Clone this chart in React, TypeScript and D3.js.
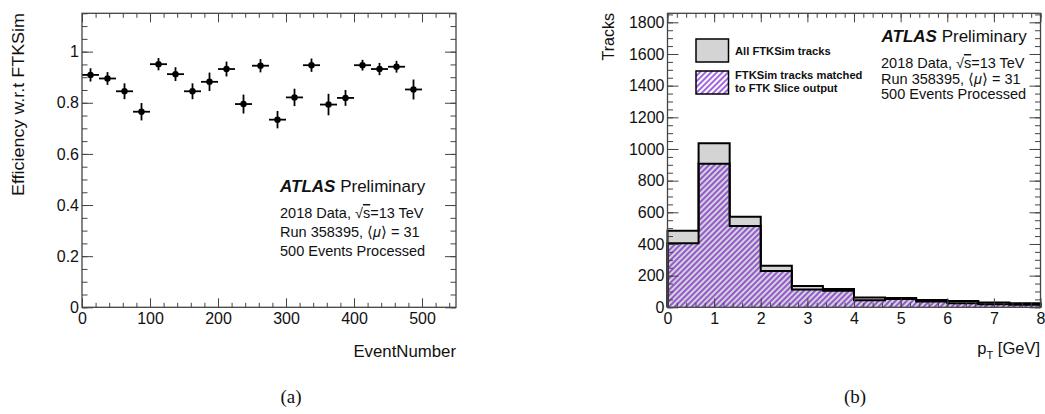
import React, { useEffect, useRef } from 'react';
import * as d3 from 'd3';

// (a) efficiency per block of 25 events
const eventCenters = [12.5, 37.5, 62.5, 87.5, 112.5, 137.5, 162.5, 187.5, 212.5, 237.5,
  262.5, 287.5, 312.5, 337.5, 362.5, 387.5, 412.5, 437.5, 462.5, 487.5];
const efficiency = [0.909, 0.895, 0.845, 0.765, 0.951, 0.912, 0.845, 0.882, 0.932, 0.795,
  0.945, 0.734, 0.821, 0.947, 0.793, 0.819, 0.947, 0.932, 0.941, 0.852];
const efficiencyErr = [0.026, 0.025, 0.031, 0.034, 0.024, 0.027, 0.031, 0.036, 0.029, 0.037,
  0.026, 0.034, 0.034, 0.026, 0.042, 0.031, 0.021, 0.024, 0.023, 0.039];
const eventHalfWidth = 12.5;

// (b) track pT histograms
const ptEdges = [0, 2 / 3, 4 / 3, 2, 8 / 3, 10 / 3, 4, 14 / 3, 16 / 3, 6, 20 / 3, 22 / 3, 8];
const allTracks = [484, 1036, 572, 263, 134, 115, 62, 58, 46, 40, 31, 25];
const matchedTracks = [405, 906, 514, 230, 113, 105, 45, 52, 37, 26, 19, 16];

const effTicks = [0, 0.2, 0.4, 0.6, 0.8, 1];
const eventTicks = [0, 100, 200, 300, 400, 500];
const trackTicks = [0, 200, 400, 600, 800, 1000, 1200, 1400, 1600, 1800];
const ptTicks = [0, 1, 2, 3, 4, 5, 6, 7, 8];

const FONT = '"Liberation Sans", Arial, Helvetica, sans-serif';
const PURPLE = '#7a22d4';
const GRAY = '#d4d4d4';
const AXIS = '#444';

/**
 * ROOT style frame: ticks inside on all four sides, labels bottom/left
 */
function drawFrame(g, x, y, opts) {
  const [bottom, top] = y.range();
  const [left, right] = x.range();
  const tx = 9, ty = 11;

  const style = sel => {
    sel.select('.domain').remove();
    sel.selectAll('line').attr('stroke', AXIS);
    sel.attr('font-family', FONT).attr('font-size', 16);
    sel.selectAll('text').attr('fill', '#111');
  };

  // minor ticks
  g.append('g').attr('transform', `translate(0,${bottom})`)
    .call(d3.axisBottom(x).tickValues(opts.xMinor).tickSize(-tx / 2).tickFormat(() => '')).call(style);
  g.append('g').attr('transform', `translate(0,${top})`)
    .call(d3.axisTop(x).tickValues(opts.xMinor).tickSize(-tx / 2).tickFormat(() => '')).call(style);
  g.append('g').attr('transform', `translate(${left},0)`)
    .call(d3.axisLeft(y).tickValues(opts.yMinor).tickSize(-ty / 2).tickFormat(() => '')).call(style);
  g.append('g').attr('transform', `translate(${right},0)`)
    .call(d3.axisRight(y).tickValues(opts.yMinor).tickSize(-ty / 2).tickFormat(() => '')).call(style);

  // major ticks + labels
  g.append('g').attr('transform', `translate(0,${bottom})`)
    .call(d3.axisBottom(x).tickValues(opts.xMajor).tickSize(-tx).tickPadding(5).tickFormat(d => String(d)))
    .call(style);
  g.append('g').attr('transform', `translate(0,${top})`)
    .call(d3.axisTop(x).tickValues(opts.xMajor).tickSize(-tx).tickFormat(() => '')).call(style);
  g.append('g').attr('transform', `translate(${left},0)`)
    .call(d3.axisLeft(y).tickValues(opts.yMajor).tickSize(-ty).tickPadding(3).tickFormat(d => String(d)))
    .call(style);
  g.append('g').attr('transform', `translate(${right},0)`)
    .call(d3.axisRight(y).tickValues(opts.yMajor).tickSize(-ty).tickFormat(() => '')).call(style);

  g.append('rect')
    .attr('x', left).attr('y', top)
    .attr('width', right - left).attr('height', bottom - top)
    .attr('fill', 'none').attr('stroke', AXIS).attr('stroke-width', 1.3);
}

function drawEfficiency(svg) {
  const x = d3.scaleLinear().domain([0, 550]).range([82, 456]);
  const y = d3.scaleLinear().domain([0, 1.15]).range([307.3, 13.3]);
  const g = svg.append('g');

  const pts = g.append('g').selectAll('g').data(eventCenters).join('g');
  pts.append('line')
    .attr('x1', d => x(d - eventHalfWidth)).attr('x2', d => x(d + eventHalfWidth))
    .attr('y1', (d, i) => y(efficiency[i])).attr('y2', (d, i) => y(efficiency[i]))
    .attr('stroke', '#000').attr('stroke-width', 1.8);
  pts.append('line')
    .attr('x1', d => x(d)).attr('x2', d => x(d))
    .attr('y1', (d, i) => y(efficiency[i] - efficiencyErr[i]))
    .attr('y2', (d, i) => y(efficiency[i] + efficiencyErr[i]))
    .attr('stroke', '#000').attr('stroke-width', 1.8);
  pts.append('circle')
    .attr('cx', d => x(d)).attr('cy', (d, i) => y(efficiency[i]))
    .attr('r', 3.2).attr('fill', '#000');

  drawFrame(g, x, y, {
    xMajor: eventTicks, xMinor: d3.range(0, 551, 20),
    yMajor: effTicks, yMinor: d3.range(0, 1.151, 0.05),
  });
}

function drawTracks(svg) {
  const x = d3.scaleLinear().domain([0, 8]).range([667.5, 1040.5]);
  const y = d3.scaleLinear().domain([0, 1857]).range([307.3, 13.3]);
  const g = svg.append('g');

  const step = values => {
    const p = [[ptEdges[0], 0]];
    values.forEach((v, i) => { p.push([ptEdges[i], v]); p.push([ptEdges[i + 1], v]); });
    p.push([ptEdges[ptEdges.length - 1], 0]);
    return d3.line().x(d => x(d[0])).y(d => y(d[1]))(p);
  };

  g.append('path').attr('d', step(allTracks) + 'Z').attr('fill', GRAY);
  g.append('path').attr('d', step(allTracks)).attr('fill', 'none')
    .attr('stroke', '#000').attr('stroke-width', 2);
  g.append('path').attr('d', step(matchedTracks) + 'Z').attr('fill', 'url(#hatch)');
  g.append('path').attr('d', step(matchedTracks)).attr('fill', 'none')
    .attr('stroke', '#000').attr('stroke-width', 2);

  drawFrame(g, x, y, {
    xMajor: ptTicks, xMinor: d3.range(0, 8.01, 0.2),
    yMajor: trackTicks, yMinor: d3.range(0, 1857, 50),
  });
}

export default function App() {
  const ref = useRef(null);

  useEffect(() => {
    const svg = d3.select(ref.current).select('g.plots');
    svg.selectAll('*').remove();
    drawEfficiency(svg);
    drawTracks(svg);
  }, []);

  const info = (x, y0, dy) => (
    <g fontFamily={FONT} fontSize={14.5} fill="#111">
      <text x={x} y={y0}>2018 Data, √<tspan textDecoration="overline">s</tspan>=13 TeV</text>
      <text x={x} y={y0 + dy}>Run 358395, ⟨<tspan fontStyle="italic">μ</tspan>⟩ = 31</text>
      <text x={x} y={y0 + 2 * dy}>500 Events Processed</text>
    </g>
  );

  return (
    <svg ref={ref} width={1045} height={414}
      style={{ position: 'absolute', left: 0, top: 0, background: '#fff' }}>
      <defs>
        <pattern id="hatch" patternUnits="userSpaceOnUse" width={4} height={4}
          patternTransform="rotate(45)">
          <line x1={2} y1={0} x2={2} y2={4} stroke={PURPLE} strokeWidth={1.4} />
        </pattern>
      </defs>
      <g className="plots" />

      {/* (a) labels */}
      <text transform="translate(24,13) rotate(-90)" textAnchor="end" textLength={183}
        lengthAdjust="spacingAndGlyphs" fontFamily={FONT} fontSize={16} fill="#111">Efficiency w.r.t FTKSim</text>
      <text x={456} y={357} textAnchor="end" fontFamily={FONT} fontSize={16.8} fill="#111">EventNumber</text>
      <text x={280} y={192} fontFamily={FONT} fontSize={17} fill="#111">
        <tspan fontWeight="bold" fontStyle="italic">ATLAS</tspan> Preliminary
      </text>
      {info(280, 218, 19)}

      {/* (b) labels */}
      <text transform="translate(614,13) rotate(-90)" textAnchor="end"
        fontFamily={FONT} fontSize={16} fill="#111">Tracks</text>
      <text x={1040} y={354} textAnchor="end" fontFamily={FONT} fontSize={16.5} fill="#111">
        p<tspan dy={5} fontSize={11}>T</tspan><tspan dy={-5}> [GeV]</tspan>
      </text>
      <text x={881.5} y={42} fontFamily={FONT} fontSize={17} fill="#111">
        <tspan fontWeight="bold" fontStyle="italic">ATLAS</tspan> Preliminary
      </text>
      {info(881, 68, 15.5)}

      {/* legend */}
      <rect x={696} y={39} width={32.5} height={23} fill={GRAY} stroke="#000" strokeWidth={1.5} />
      <rect x={696} y={71} width={32.5} height={23} fill="#fff" stroke="none" />
      <rect x={696} y={71} width={32.5} height={23} fill="url(#hatch)" stroke="#000" strokeWidth={1.5} />
      <g fontFamily={FONT} fontSize={11.2} fontWeight="bold" fill="#111">
        <text x={735} y={55}>All FTKSim tracks</text>
        <text x={735} y={79}>FTKSim tracks matched</text>
        <text x={735} y={92}>to FTK Slice output</text>
      </g>

      <text x={291} y={403} textAnchor="middle" fontFamily='"Liberation Serif", "Times New Roman", serif'
        fontSize={19} fill="#111">(a)</text>
      <text x={855} y={403} textAnchor="middle" fontFamily='"Liberation Serif", "Times New Roman", serif'
        fontSize={19} fill="#111">(b)</text>
    </svg>
  );
}
